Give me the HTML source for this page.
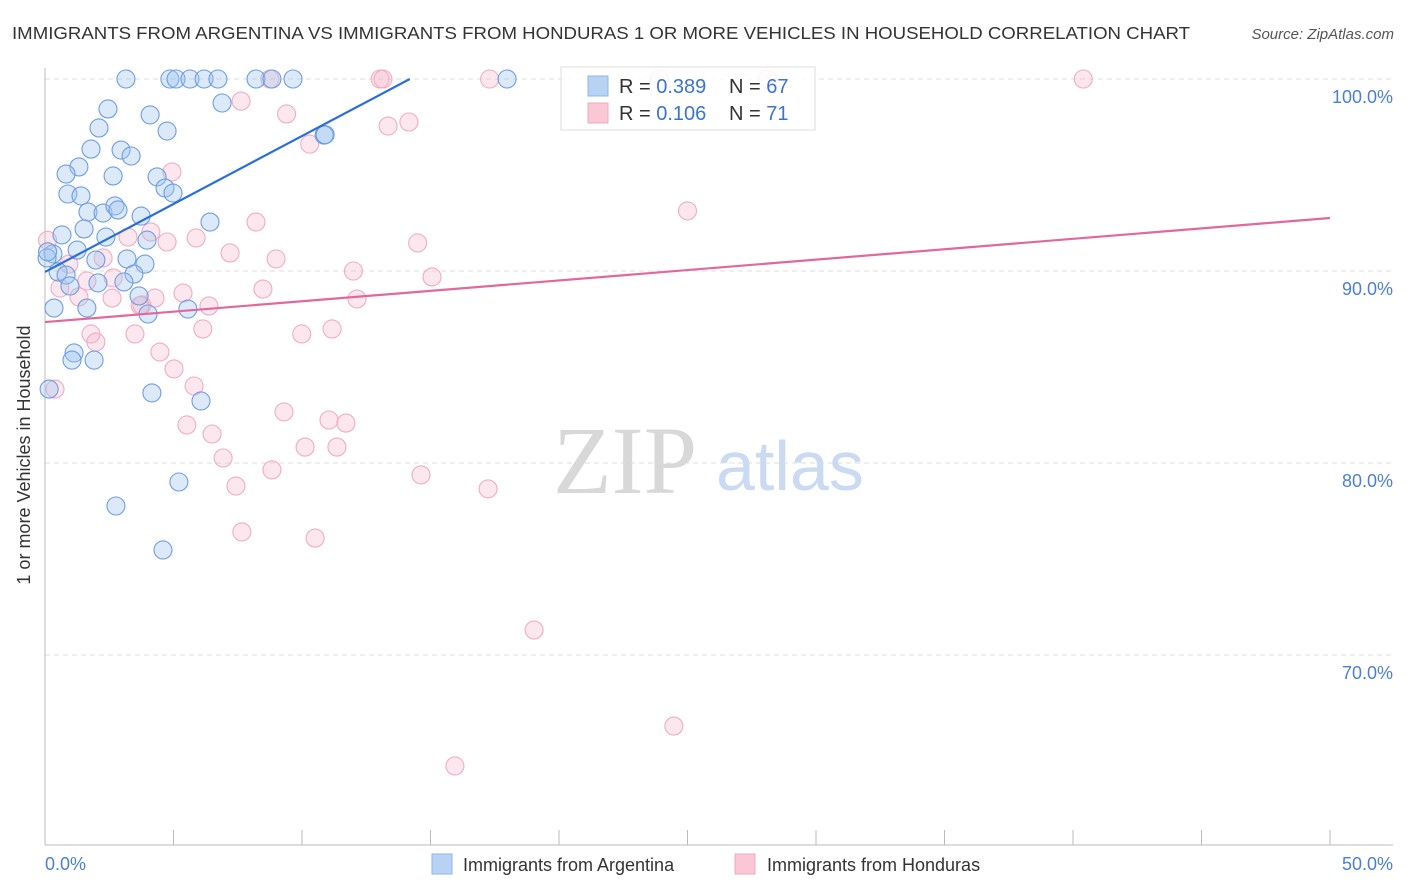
<!DOCTYPE html>
<html><head><meta charset="utf-8"><style>
body{margin:0;background:#fff;font-family:"Liberation Sans",sans-serif;}
svg{display:block}
</style></head><body>
<svg id="chart" width="1406" height="892">
<text x="12" y="39" font-size="17.5" fill="#333" textLength="1178" lengthAdjust="spacingAndGlyphs">IMMIGRANTS FROM ARGENTINA VS IMMIGRANTS FROM HONDURAS 1 OR MORE VEHICLES IN HOUSEHOLD CORRELATION CHART</text>
<text x="1394" y="39" font-size="15" fill="#555" font-style="italic" text-anchor="end">Source: ZipAtlas.com</text>
<g>
<text x="553" y="493" font-size="96" font-family="Liberation Serif,serif" fill="#d8d8d8">ZIP</text>
<text x="716" y="490" font-size="70" fill="#c9daf2">atlas</text>
</g>
<g id="grid"></g>
<g id="axes"></g>
<g id="pts"></g>
<g id="trends"></g>
<text x="30" y="455" font-size="18" fill="#333" text-anchor="middle" transform="rotate(-90 30 455)">1 or more Vehicles in Household</text>
<text x="45" y="870" font-size="18" fill="#4a7fd4">0.0%</text>
<text x="1393" y="870" font-size="18" fill="#4a7fd4" text-anchor="end">50.0%</text>
<g>
<rect x="561" y="67" width="254" height="63" fill="rgba(255,255,255,0.85)" stroke="#ddd"/>
<rect x="588" y="76" width="20" height="20" fill="#b8d2f4" stroke="#8fb5e8"/>
<rect x="588" y="103" width="20" height="20" fill="#fac7d6" stroke="#f0a9c0"/>
<text x="619" y="93" font-size="20" fill="#333">R = <tspan fill="#3a74d0">0.389</tspan></text>
<text x="729" y="93" font-size="20" fill="#333">N = <tspan fill="#3a74d0">67</tspan></text>
<text x="619" y="120" font-size="20" fill="#333">R =  <tspan fill="#3a74d0">0.106</tspan></text>
<text x="729" y="120" font-size="20" fill="#333">N =  <tspan fill="#3a74d0">71</tspan></text>
</g>
<g>
<rect x="432" y="854" width="20" height="20" fill="#b8d2f4" stroke="#8fb5e8"/>
<text x="463" y="871" font-size="18" fill="#333">Immigrants from Argentina</text>
<rect x="735" y="854" width="20" height="20" fill="#fac7d6" stroke="#f0a9c0"/>
<text x="767" y="871" font-size="18" fill="#333">Immigrants from Honduras</text>
</g>
</svg>
<script>
const yTicks=[70,80,90,100];
const yTickLabels=["70.0%","80.0%","90.0%","100.0%"];
const xTicks=[0,5,10,15,20,25,30,35,40,45,50];
const argX=[3.15,4.86,5.1,5.64,6.19,6.73,8.21,8.83,9.65,17.98,2.45,4.09,6.89,4.75,2.1,10.86,1.79,2.96,3.35,1.32,0.82,2.65,4.36,4.67,0.89,1.4,4.98,1.67,2.26,2.72,2.84,3.74,6.42,1.52,0.66,2.37,3.97,1.25,0.31,0.08,1.98,3.19,3.89,0.51,0.82,3.46,3.07,2.06,0.97,3.66,1.63,0.35,5.56,4.01,1.13,1.05,1.91,4.16,6.07,0.16,5.21,2.76,4.59,10.9,0.1];
const argY=[100,100,100,100,100,100,100,100,100,100,98.44,98.13,98.75,97.29,97.45,97.08,96.35,96.3,95.99,95.42,95.05,94.95,94.9,94.32,94.01,93.91,94.06,93.07,93.02,93.39,93.18,92.86,92.55,92.19,91.88,91.77,91.61,91.09,90.89,90.68,90.57,90.63,90.36,89.95,89.79,89.84,89.43,89.38,89.22,88.7,88.07,88.07,88.02,87.76,85.73,85.36,85.36,83.65,83.23,83.85,79.01,77.76,75.47,97.1,91.0];
const honX=[13.04,13.15,17.3,8.75,23.9,28.1,40.4,7.63,9.4,13.35,14.16,10.3,4.94,25.0,8.21,4.12,3.23,5.88,4.75,14.5,7.2,0.1,2.26,8.99,0.93,12.0,15.06,1.63,2.65,0.58,8.48,5.37,1.32,4.28,2.61,12.14,6.38,3.77,6.14,9.99,11.17,3.5,1.79,1.98,4.47,5.02,5.8,0.39,9.3,11.05,11.71,5.52,6.5,10.12,11.36,6.93,8.83,14.63,7.43,17.24,7.66,10.51,19.03,24.47,15.95,3.7];
const honY=[100,100,100,100,100,100,100,98.85,98.18,97.55,97.76,96.61,95.16,93.13,92.55,92.03,91.77,91.72,91.51,91.46,90.94,91.6,90.68,90.63,90.36,90.0,89.69,89.48,89.64,89.11,89.06,88.85,88.65,88.59,88.59,88.54,88.18,88.23,86.98,86.72,86.98,86.72,86.72,86.3,85.78,84.9,84.01,83.85,82.66,82.24,82.08,81.98,81.51,80.83,80.83,80.26,79.64,79.38,78.8,78.65,76.41,76.09,71.3,66.3,64.22,88.2];
const argTrend=[89.95,0.708];
const honTrend=[87.34,0.1084];
const NS="http://www.w3.org/2000/svg";
const X=v=>45+v*25.7, Y=v=>79+(100-v)*19.2;
function mk(tag,attrs,parent){const e=document.createElementNS(NS,tag);for(const k in attrs)e.setAttribute(k,attrs[k]);document.getElementById(parent).appendChild(e);return e;}
yTicks.forEach((t,i)=>{
 const l=mk('line',{x1:45,x2:1393,y1:Y(t),y2:Y(t),stroke:'#ddd','stroke-dasharray':'5,4'},'grid');
 
 
 const tx=mk('text',{x:1393,y:Y(t)+24,'font-size':18,fill:'#4a7fd4','text-anchor':'end'},'grid');
 tx.textContent=yTickLabels[i];
 
 
});
const ya=mk('line',{x1:45,x2:45,y1:68,y2:845,stroke:'#bbb'},'axes');


const xa=mk('line',{x1:45,x2:1393,y1:845,y2:845,stroke:'#bbb'},'axes');


xTicks.forEach(t=>{
 const l=mk('line',{x1:X(t),x2:X(t),y1:830,y2:845,stroke:'#bbb'},'axes');
 
 
});
function pts(xs,ys,fill,stroke,name){
 xs.forEach((x,i)=>{
  const c=mk('circle',{cx:X(x),cy:Y(ys[i]),r:9,fill:fill,stroke:stroke,'stroke-width':1.1},'pts');
  
  
 });
}
pts(honX,honY,'rgba(246,176,200,0.3)','#f0acc4','honduras-point');
pts(argX,argY,'rgba(160,196,240,0.38)','#6f9de2','argentina-point');
const xe=(100-argTrend[0])/argTrend[1];
const bl=mk('line',{x1:X(0),y1:Y(argTrend[0]),x2:X(xe),y2:Y(100),stroke:'#2a6fd6','stroke-width':2.2},'trends');


const pl=mk('line',{x1:X(0),y1:Y(honTrend[0]),x2:X(50),y2:Y(honTrend[0]+50*honTrend[1]),stroke:'#e2679a','stroke-width':2.2},'trends');


</script>
</body></html>
